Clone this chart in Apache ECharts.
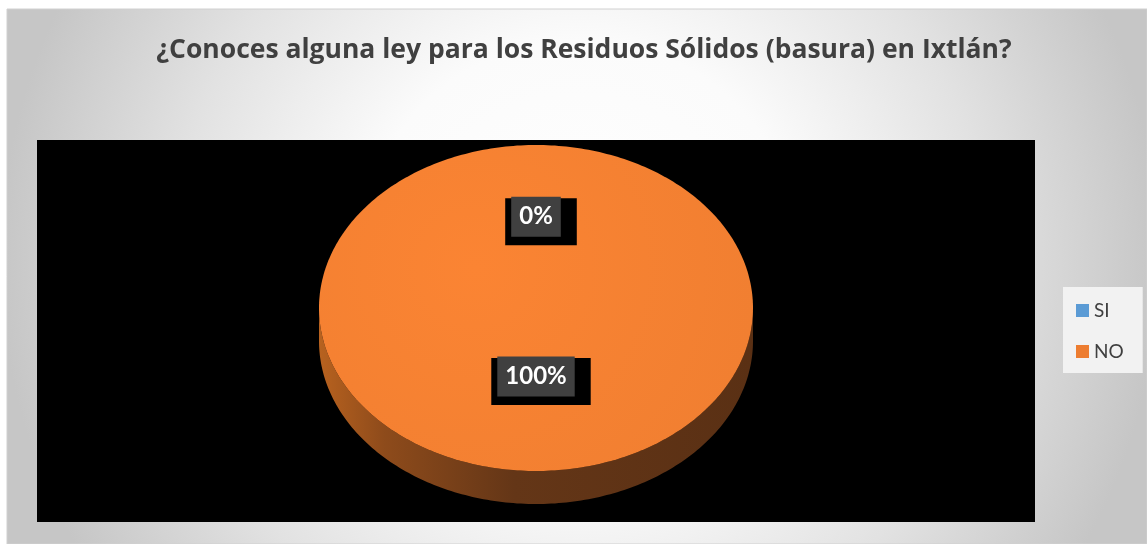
<!DOCTYPE html>
<html>
<head>
<meta charset="utf-8">
<script src="https://cdn.jsdelivr.net/npm/echarts@6/dist/echarts.min.js"></script>
<style>
  html, body { margin: 0; padding: 0; background: #fff; }
  #chart { width: 1147px; height: 544px; }
</style>
</head>
<body>
<div id="chart"></div>
<script>
const categories = ["SI", "NO"];
const values = [0, 100];
const colors = ["#5b9bd5", "#ed7d31"];
const titleText = "¿Conoces alguna ley para los Residuos Sólidos (basura) en Ixtlán?";

// 3d-ish pie layout (ellipse + side wall)
const pie = { cx: 536, cy: 308, rx: 217, ry: 163, depth: 33 };
const labelDist = [0.56, 0.42];
const font = "Lato";

const total = values.reduce((a, b) => a + b, 0);
const starts = [];
let acc = 0;
values.forEach(v => { starts.push(acc); acc += v; });

function pt(angle, dist, dy) {
  return [
    pie.cx + pie.rx * dist * Math.sin(angle),
    pie.cy - pie.ry * dist * Math.cos(angle) + (dy || 0)
  ];
}
function arc(a0, a1, dy) {
  const n = Math.max(2, Math.ceil((a1 - a0) / (Math.PI / 180)));
  const out = [];
  for (let i = 0; i <= n; i++) out.push(pt(a0 + (a1 - a0) * i / n, 1, dy));
  return out;
}
function sideFill() {
  const x0 = pie.cx - pie.rx, x1 = pie.cx + pie.rx;
  return new echarts.graphic.LinearGradient(x0, 0, x1, 0, [
    { offset: 0, color: "#b8621f" },
    { offset: 0.15, color: "#8e4b1b" },
    { offset: 0.45, color: "#643617" },
    { offset: 1, color: "#5a3014" }
  ], true);
}
function topFill(idx) {
  // a touch of lighting on the top face
  return new echarts.graphic.RadialGradient(pie.cx - 60, pie.cy - 40, pie.rx * 1.3, [
    { offset: 0, color: echarts.color.lift(colors[idx], -0.06) },
    { offset: 1, color: echarts.color.lift(colors[idx], -0.02) }
  ], true);
}

function renderSlice(idx) {
  return function (params, api) {
    const a0 = starts[idx] / total * 2 * Math.PI;
    const a1 = (starts[idx] + values[idx]) / total * 2 * Math.PI;
    const children = [];
    // front side wall
    const s0 = Math.max(a0, Math.PI / 2), s1 = Math.min(a1, 3 * Math.PI / 2);
    if (s1 > s0) {
      const pts = arc(s0, s1, 0).concat(arc(s0, s1, pie.depth).reverse());
      children.push({ type: "polygon", shape: { points: pts }, style: { fill: sideFill() } });
    }
    // top face
    if (a1 > a0) {
      let pts = arc(a0, a1, 0);
      if (a1 - a0 < 2 * Math.PI - 1e-6) pts = [[pie.cx, pie.cy]].concat(pts);
      children.push({ type: "polygon", shape: { points: pts }, style: { fill: topFill(idx) } });
    }
    // data label
    const mid = (a0 + a1) / 2;
    const p = pt(mid, labelDist[idx], 0);
    const pct = Math.round(values[idx] / total * 100) + "%";
    children.push({
      type: "text",
      x: p[0] + 5,
      y: p[1] + 5,
      z2: 10,
      style: {
        text: "{a|" + pct + "}",
        align: "center",
        verticalAlign: "middle",
        backgroundColor: "#000",
        padding: [6, 16, 16, 6],
        rich: {
          a: {
            backgroundColor: "#404040",
            padding: [8, 8, 8, 8],
            fill: "#fff",
            fontFamily: font,
            fontWeight: "bold",
            fontSize: 24,
            lineHeight: 25
          }
        }
      }
    });
    return { type: "group", children: children };
  };
}

const chart = echarts.init(document.getElementById("chart"));
chart.setOption({
  animation: false,
  backgroundColor: "#fff",
  title: {
    text: titleText,
    left: 579,
    top: 32,
    textAlign: "center",
    textStyle: { fontFamily: "Open Sans", fontWeight: "bold", fontSize: 26.5, color: "#404040" }
  },
  legend: {
    orient: "vertical",
    left: 1063,
    top: 287,
    data: categories,
    icon: "rect",
    itemWidth: 13,
    itemHeight: 13,
    itemGap: 22,
    padding: [14, 19, 12, 13],
    backgroundColor: "#f2f2f2",
    textStyle: { fontFamily: font, fontSize: 19, color: "#404040" },
    selectedMode: false
  },
  graphic: [
    {
      type: "rect",
      z: 0,
      shape: { x: 7, y: 9, width: 1140, height: 535 },
      style: {
        fill: new echarts.graphic.RadialGradient(580, 260, 580, [
          { offset: 0, color: "#ffffff" },
          { offset: 0.38, color: "#fbfbfb" },
          { offset: 0.7, color: "#e2e2e2" },
          { offset: 1, color: "#c6c6c6" }
        ], true),
        stroke: "#d0d0d0",
        lineWidth: 1
      }
    },
    {
      type: "rect",
      z: 1,
      shape: { x: 37, y: 140, width: 998, height: 382 },
      style: { fill: "#000" }
    }
  ],
  series: categories.map((name, i) => ({
    type: "custom",
    name: name,
    coordinateSystem: "none",
    itemStyle: { color: colors[i] },
    data: [[values[i]]],
    renderItem: renderSlice(i)
  }))
});
</script>
</body>
</html>
